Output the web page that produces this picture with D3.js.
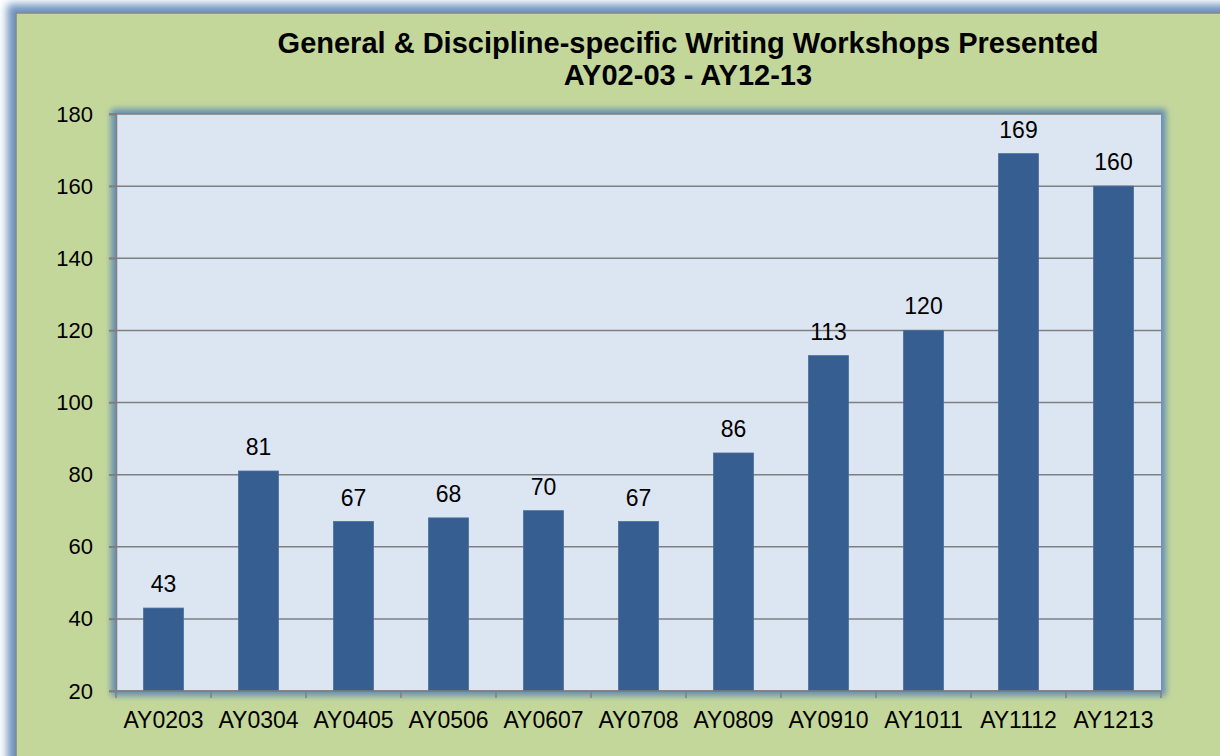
<!DOCTYPE html>
<html>
<head>
<meta charset="utf-8">
<script src="https://cdn.jsdelivr.net/npm/d3@7"></script>
<style>
  html, body { margin: 0; padding: 0; background: #ffffff; }
  svg { display: block; font-family: "Liberation Sans", Arial, sans-serif; }
</style>
</head>
<body>
<svg class="figure" width="1220" height="756"></svg>
<script>
var categories = ["AY0203", "AY0304", "AY0405", "AY0506", "AY0607", "AY0708", "AY0809", "AY0910", "AY1011", "AY1112", "AY1213"];
var workshops = [43, 81, 67, 68, 70, 67, 86, 113, 120, 169, 160];
var yTicks = [20, 40, 60, 80, 100, 120, 140, 160, 180];
var titleLines = ["General & Discipline-specific Writing Workshops Presented", "AY02-03 - AY12-13"];

var svg = d3.select("svg.figure");
var plot = {left: 116, top: 114, right: 1161, bottom: 691};

// glow filter, used for both the frame and the plot area
var defs = svg.append("defs");
function makeGlow(id, radius, blur) {
  var f = defs.append("filter")
    .attr("id", id)
    .attr("x", "-10%").attr("y", "-10%")
    .attr("width", "120%").attr("height", "120%");
  f.append("feMorphology")
    .attr("in", "SourceAlpha")
    .attr("operator", "dilate")
    .attr("radius", radius)
    .attr("result", "wide");
  f.append("feGaussianBlur")
    .attr("in", "wide")
    .attr("stdDeviation", blur)
    .attr("result", "blur");
  f.append("feFlood")
    .attr("flood-color", "#5b86b8")
    .attr("flood-opacity", 0.9);
  f.append("feComposite")
    .attr("in2", "blur")
    .attr("operator", "in")
    .attr("result", "halo");
  var merge = f.append("feMerge");
  merge.append("feMergeNode").attr("in", "halo");
  merge.append("feMergeNode").attr("in", "SourceGraphic");
}
makeGlow("glowFrame", 8, 4);
makeGlow("glowPlot", 5, 3);

// outer frame
svg.append("rect")
  .attr("x", 16)
  .attr("y", 13)
  .attr("width", 1230)
  .attr("height", 770)
  .attr("fill", "#c4d79b")
  .attr("stroke", "#868686")
  .attr("stroke-width", 1.5)
  .attr("filter", "url(#glowFrame)");

// title
svg.append("text")
  .attr("y", 53)
  .attr("text-anchor", "middle")
  .attr("font-size", 29)
  .attr("font-weight", "bold")
  .selectAll("tspan")
  .data(titleLines)
  .enter()
  .append("tspan")
  .attr("x", 688)
  .attr("dy", function(d, i) { return i === 0 ? 0 : 32; })
  .text(function(d) { return d; });

var x = d3.scaleBand()
  .domain(categories)
  .range([plot.left, plot.right])
  .padding(0);

var y = d3.scaleLinear()
  .domain([20, 180])
  .range([plot.bottom, plot.top]);

// plot area with glow
svg.append("rect")
  .attr("x", plot.left)
  .attr("y", plot.top)
  .attr("width", plot.right - plot.left)
  .attr("height", plot.bottom - plot.top)
  .attr("fill", "#dce6f2")
  .attr("filter", "url(#glowPlot)");

// gridlines
svg.append("g")
  .selectAll("line")
  .data(yTicks)
  .enter()
  .append("line")
  .attr("x1", plot.left - 7)
  .attr("x2", plot.right)
  .attr("y1", function(d) { return y(d); })
  .attr("y2", function(d) { return y(d); })
  .attr("stroke", "#7f7f7f")
  .attr("stroke-width", 1.5);

// bars
var barWidth = x.bandwidth() * 0.42;
svg.append("g")
  .selectAll("rect")
  .data(workshops)
  .enter()
  .append("rect")
  .attr("x", function(d, i) { return x(categories[i]) + (x.bandwidth() - barWidth) / 2; })
  .attr("y", function(d) { return y(d); })
  .attr("width", barWidth)
  .attr("height", function(d) { return y(20) - y(d); })
  .attr("fill", "#365e91")
  .attr("stroke", "#4a6f9c")
  .attr("stroke-width", 0.8);

// value labels
svg.append("g")
  .selectAll("text")
  .data(workshops)
  .enter()
  .append("text")
  .attr("x", function(d, i) { return x(categories[i]) + x.bandwidth() / 2; })
  .attr("y", function(d) { return y(d) - 16; })
  .attr("text-anchor", "middle")
  .attr("font-size", 23)
  .attr("fill", "#000")
  .text(function(d) { return d; });

// y axis
var yAxis = svg.append("g")
  .attr("transform", "translate(" + plot.left + ",0)")
  .call(d3.axisLeft(y).tickValues(yTicks).tickSize(7).tickPadding(16));
yAxis.select(".domain").attr("stroke", "#7f7f7f").attr("stroke-width", 1.5);
yAxis.selectAll(".tick line").attr("stroke", "#7f7f7f").attr("stroke-width", 1.5);
yAxis.selectAll(".tick text")
  .attr("font-size", 22)
  .attr("font-family", "Liberation Sans, Arial, sans-serif")
  .attr("fill", "#000");

// x axis: ticks at category boundaries
var xAxis = svg.append("g")
  .attr("transform", "translate(0," + plot.bottom + ")");
xAxis.append("line")
  .attr("x1", plot.left)
  .attr("x2", plot.right)
  .attr("stroke", "#7f7f7f")
  .attr("stroke-width", 1.5);
xAxis.selectAll("line.tick")
  .data(categories.concat(["end"]))
  .enter()
  .append("line")
  .attr("class", "tick")
  .attr("x1", function(d, i) { return i < categories.length ? x(d) : plot.right; })
  .attr("x2", function(d, i) { return i < categories.length ? x(d) : plot.right; })
  .attr("y1", 0)
  .attr("y2", 7)
  .attr("stroke", "#7f7f7f")
  .attr("stroke-width", 1.5);
xAxis.selectAll("text")
  .data(categories)
  .enter()
  .append("text")
  .attr("x", function(d) { return x(d) + x.bandwidth() / 2; })
  .attr("y", 37)
  .attr("text-anchor", "middle")
  .attr("font-size", 23)
  .attr("fill", "#000")
  .text(function(d) { return d; });
</script>
</body>
</html>
